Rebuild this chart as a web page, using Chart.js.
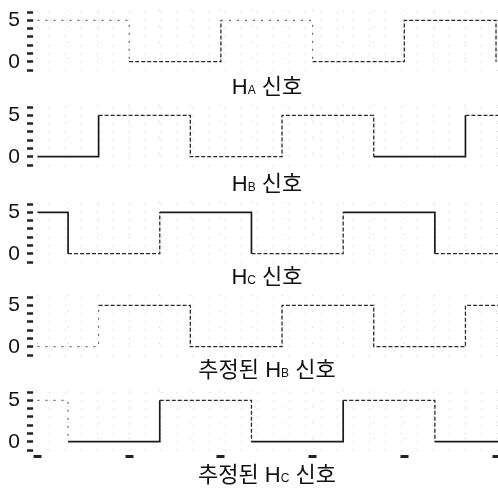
<!DOCTYPE html>
<html><head><meta charset="utf-8">
<script src="https://cdn.jsdelivr.net/npm/chart.js@4.4.1/dist/chart.umd.min.js"></script>
<style>
html,body{margin:0;padding:0;background:#fff;width:498px;height:491px;overflow:hidden;position:relative}
canvas{position:absolute;left:0}
.ttl{position:absolute;left:0;width:534px;text-align:center;font-family:"Liberation Sans","Noto Sans CJK KR",sans-serif;font-size:22px;line-height:22px;color:#111;white-space:nowrap;z-index:5}
.ttl .s{font-size:12px}
</style></head><body>
<canvas id="c0" width="498" height="88"></canvas>
<canvas id="c1" width="498" height="88"></canvas>
<canvas id="c2" width="498" height="88"></canvas>
<canvas id="c3" width="498" height="88"></canvas>
<canvas id="c4" width="498" height="88"></canvas>
<div class="ttl" id="t0"></div>
<div class="ttl" id="t1"></div>
<div class="ttl" id="t2"></div>
<div class="ttl" id="t3"></div>
<div class="ttl" id="t4"></div>
<script>
// ---- data (time in commutation steps, level in volts) ----
const haTimes = [0, 3, 6, 9, 12, 15];
const haLevels = [5, 0, 5, 0, 5, 0];
const hbTimes = [0, 2, 5, 8, 11, 14, 15.1];
const hbLevels = [0, 5, 0, 5, 0, 5, 5];
const hcTimes = [0, 1, 4, 7, 10, 13, 15.1];
const hcLevels = [5, 0, 5, 0, 5, 0, 0];
const estHbTimes = [0, 2, 5, 8, 11, 14, 15.1];
const estHbLevels = [0, 5, 0, 5, 0, 5, 5];
const estHcTimes = [0, 1, 4, 7, 10, 13, 15.1];
const estHcLevels = [5, 0, 5, 0, 5, 0, 0];
const yTickValues = [-1, 0, 1, 2, 3, 4, 5, 6];
const yLabelValues = [0, 5];
const xGridValues = [0,1,2,3,4,5,6,7,8,9,10,11,12,13,14,15];
const xMarkValues = [0, 3, 6, 9, 12, 15];
const titleMain = ['H', 'H', 'H', '추정된 H', '추정된 H'];
const titleSub = ['A', 'B', 'C', 'B', 'C'];
const titleTail = ' 신호';

// ---- styles ----
const STY = {
  solid: {dash: [], color: '#1a1a1a', width: 1.7},
  dash:  {dash: [4, 2], color: '#2a2a2a', width: 1.3},
  faint: {dash: [2, 6], color: '#666', width: 1.2}
};
const panels = [
  {t: haTimes, v: haLevels, seg: ['faint','dash','faint','dash','dash'], top: -4},
  {t: hbTimes, v: hbLevels, seg: ['solid','dash','dash','dash','solid','dash'], top: 91},
  {t: hcTimes, v: hcLevels, seg: ['solid','dash','solid','dash','solid','dash'], top: 188},
  {t: estHbTimes, v: estHbLevels, seg: ['faint','dash','dash','dash','dash','dash'], top: 281},
  {t: estHcTimes, v: estHcLevels, seg: ['faint','solid','dash','solid','dash','solid'], top: 376}
];
const titleTops = [76, 173, 266, 359, 464];
const xMin = -0.147, xMax = 15.065;

function noPad(s) { s.paddingTop = 0; s.paddingBottom = 0; s.paddingLeft = 0; s.paddingRight = 0; }

panels.forEach((p, i) => {
  const cv = document.getElementById('c' + i);
  cv.style.top = p.top + 'px';
  const last = i === panels.length - 1;
  new Chart(cv, {
    type: 'line',
    data: {datasets: [{
      data: p.t.map((t, k) => ({x: t, y: p.v[k]})),
      stepped: true, pointRadius: 0, fill: false,
      borderColor: '#222', borderWidth: 1.3,
      segment: {
        borderDash: c => STY[p.seg[c.p0DataIndex]].dash,
        borderColor: c => STY[p.seg[c.p0DataIndex]].color,
        borderWidth: c => STY[p.seg[c.p0DataIndex]].width
      }
    }]},
    options: {
      responsive: false, animation: false, events: [],
      plugins: {legend: {display: false}, tooltip: {enabled: false}},
      layout: {padding: {top: 14, bottom: 14, left: 0, right: 0}},
      scales: {
        x: {
          type: 'linear', min: xMin, max: xMax,
          afterBuildTicks: s => { s.ticks = xGridValues.map(v => ({value: v})); },
          afterFit: s => { s.height = 0; noPad(s); },
          ticks: {display: false, autoSkip: false},
          border: {display: false, dash: [1, 15]},
          grid: {
            color: '#d2d2d2', lineWidth: 1, drawTicks: last,
            tickLength: 8, tickWidth: 8,
            tickColor: c => xMarkValues.includes(c.tick.value) ? '#222' : 'rgba(0,0,0,0)',
            tickBorderDash: [0, 5, 3, 100]
          }
        },
        y: {
          min: -1, max: 6.25,
          afterBuildTicks: s => { s.ticks = yTickValues.map(v => ({value: v})); },
          afterFit: s => { s.width = 33; noPad(s); },
          ticks: {
            autoSkip: false,
            callback: v => yLabelValues.includes(v) ? String(v) : '',
            font: {family: 'Liberation Sans', size: 21}, color: '#111', padding: 7
          },
          border: {display: false, dash: [1, 15]},
          grid: {color: '#d6d6d6', lineWidth: 1, tickLength: 6, tickWidth: 2.5, tickColor: '#222'}
        }
      }
    }
  });
  const t = document.getElementById('t' + i);
  t.style.top = titleTops[i] + 'px';
  t.innerHTML = titleMain[i] + '<span class="s">' + titleSub[i] + '</span>' + titleTail;
});
</script>
</body></html>
